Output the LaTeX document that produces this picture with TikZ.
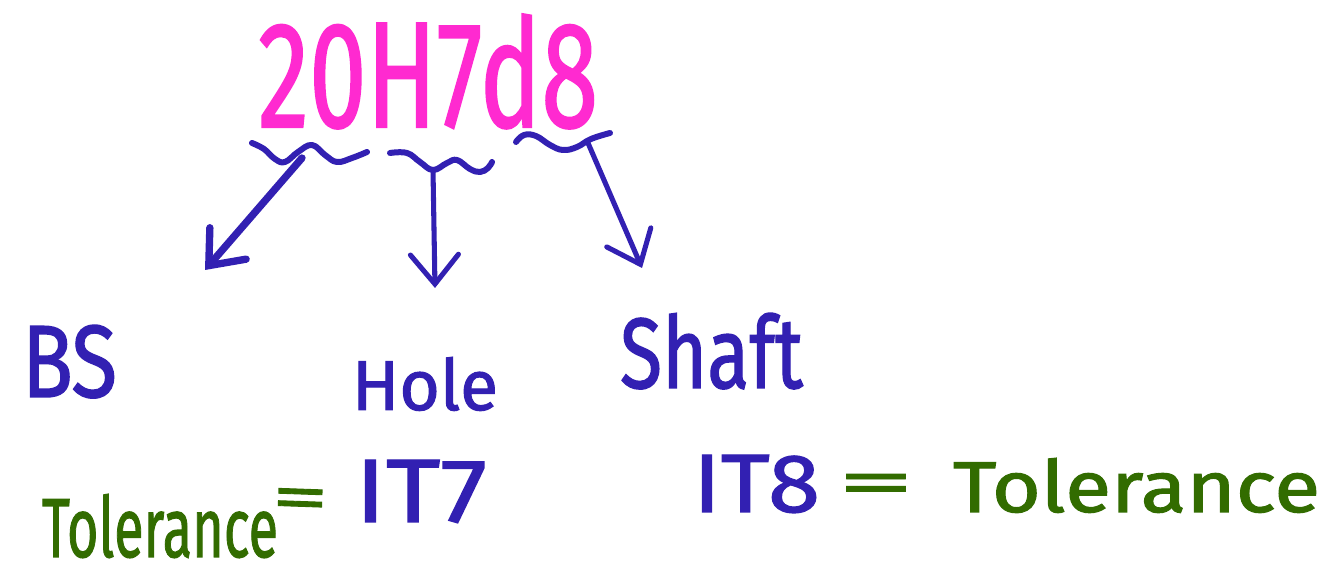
\documentclass[tikz,border=0pt]{standalone}
\usepackage{fontspec}
\setmainfont{Fira Sans}[FakeBold=1.4]
\usetikzlibrary{arrows.meta}
\newlength\pxu
\setlength\pxu{0.75pt}
\definecolor{penpink}{RGB}{255,42,208}
\definecolor{penblue}{RGB}{50,32,178}
\definecolor{pengreen}{RGB}{50,108,0}
\tikzset{
  txt/.style={inner sep=0pt, outer sep=0pt, anchor=base west},
  eqsign/.style={inner sep=0pt, outer sep=0pt, anchor=center, text=pengreen},
  wave/.style={penblue, line width=4.5pt, line cap=round, line join=round},
  pointer/.style={penblue, line width=3.8pt, line cap=round,
    -{Straight Barb[length=22pt,width=36pt,line cap=round]}},
}
\begin{document}
\begin{tikzpicture}[x=0.75pt,y=-0.75pt]
\useasboundingbox[fill=white] (0,0) rectangle (1336,573);

% designation of the fit
\node[txt, text=penpink] (fit) at (258,127) {\resizebox{340\pxu}{113\pxu}{20H7d8}};

% wavy underlines below each part of the designation
\draw[wave] plot[smooth, tension=0.7] coordinates
  {(252,143) (264,149) (275,159) (285,162) (298,152) (312,145) (325,155) (337,162) (352,158) (367,152)};
\draw[wave] plot[smooth, tension=0.7] coordinates
  {(390,153) (407,153) (420,162) (433,170) (447,163) (457,160) (470,169) (480,172) (488,168) (492,162)};
\draw[wave] plot[smooth, tension=0.7] coordinates
  {(516,142) (524,135) (536,136) (550,145) (563,150) (577,147) (591,139) (610,133)};

\coordinate (s1) at (302,158);
\coordinate (t1) at (205,270);
\coordinate (s2) at (433,170);
\coordinate (t2) at (435,288);
\coordinate (s3) at (588,143);
\coordinate (t3) at (642,268);

\draw[pointer, line width=5.5pt] (s1) -- (t1);
\draw[pointer] (s2) -- (t2);
\draw[pointer] (s3) -- (t3);

% labels
\node[txt, text=penblue] (bs) at (22,397) {\resizebox{95\pxu}{72\pxu}{BS}};
\node[txt, text=penblue] (hole) at (352,410) {\resizebox{146\pxu}{53\pxu}{Hole}};
\node[txt, text=penblue] (shaft) at (620,388) {\resizebox{183\pxu}{75\pxu}{Shaft}};

\node[txt, text=penblue] (it7) at (355,522) {\resizebox{132\pxu}{62\pxu}{IT7}};
\node[txt, text=penblue] (it8) at (693,512) {\resizebox{127\pxu}{57\pxu}{IT8}};

\node[txt, text=pengreen] (tolL) at (42,557) {\resizebox{236\pxu}{63\pxu}{Tolerance}};
\node[eqsign, rotate=-2] (eqL) at (300,504) {\scalebox{8.5}[4.8]{=}};
\node[eqsign] (eqR) at (876,489) {\scalebox{11.5}[4.8]{=}};
\node[txt, text=pengreen] (tolR) at (953,512) {\resizebox{367\pxu}{54\pxu}{Tolerance}};
\end{tikzpicture}
\end{document}
